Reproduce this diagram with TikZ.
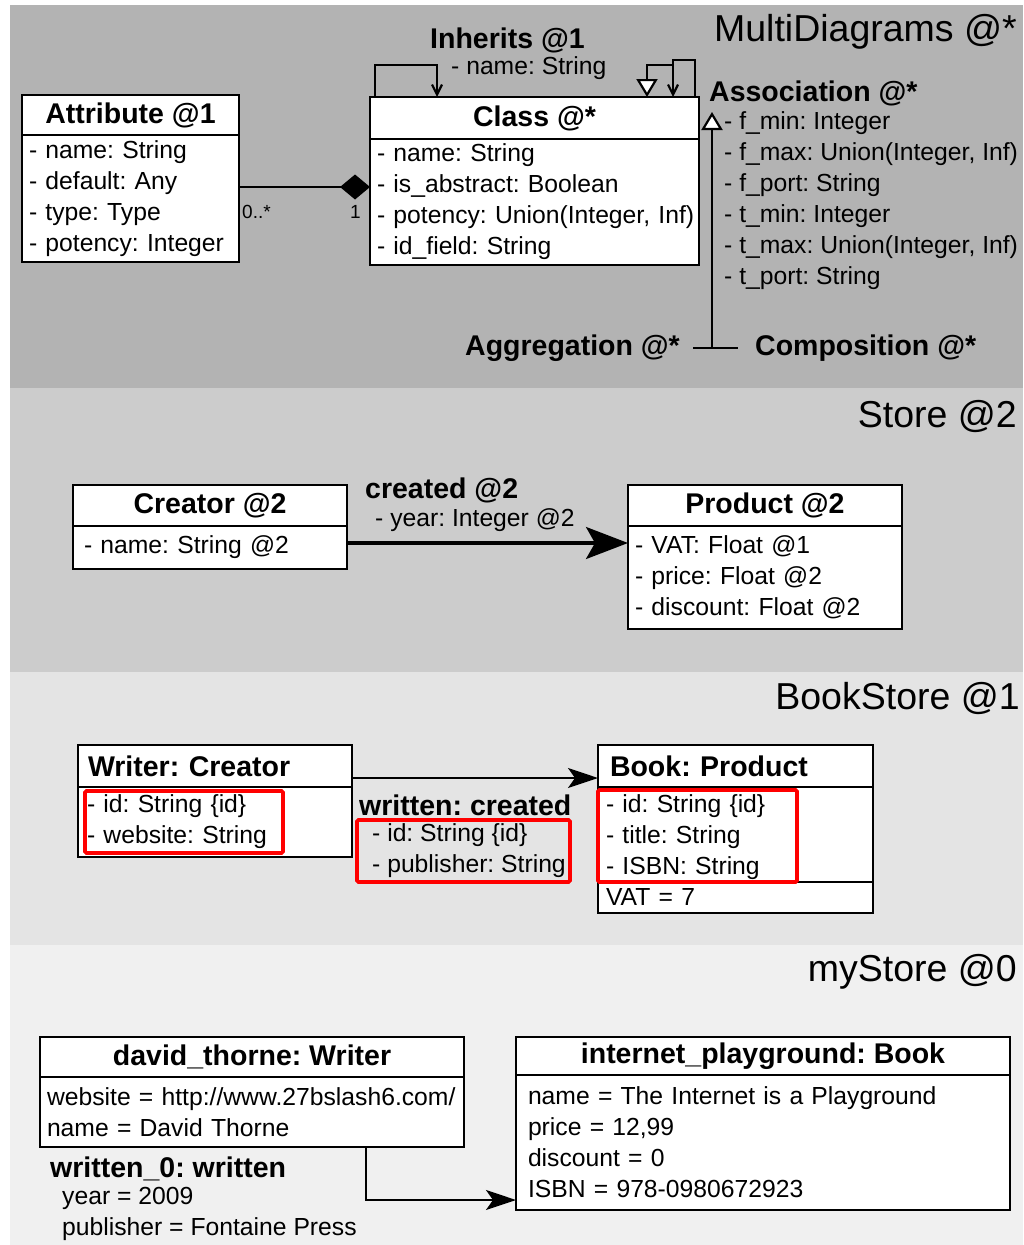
\documentclass[tikz,border=0pt]{standalone}
\usepackage{fontspec}
\setmainfont{Liberation Sans}
\usetikzlibrary{arrows.meta,positioning}

\definecolor{metagray}{HTML}{B3B3B3}
\definecolor{storegray}{HTML}{CCCCCC}
\definecolor{bookgray}{HTML}{E4E4E4}
\definecolor{instgray}{HTML}{F0F0F0}

\newcommand{\bodyfont}{\fontsize{24.7}{31}\selectfont}
\newcommand{\headfont}{\fontsize{28.5}{34}\selectfont\bfseries}
\newcommand{\bandfont}{\fontsize{37.5}{44}\selectfont}
\newcommand{\multfont}{\fontsize{19}{22}\selectfont}
\frenchspacing

\tikzset{
	boxline/.style={line width=2.2pt},
	classhead/.style={boxline, draw, fill=white, anchor=north west, inner sep=0pt, outer sep=0pt, font=\headfont},
	classbody/.style={boxline, draw, fill=white, anchor=north west, inner ysep=0pt, outer sep=0pt, align=left, font=\bodyfont},
	lbl/.style={inner sep=0pt, font=\bodyfont},
	blbl/.style={inner sep=0pt, font=\headfont},
	mult/.style={inner sep=0pt, font=\multfont},
	bandtitle/.style={inner sep=0pt, anchor=east, font=\bandfont},
	redmark/.style={draw=red, line width=3.6pt, rounded corners=1.5pt},
	tipbarb/.style={-{Straight Barb[length=10pt,width=10pt]}},
	tipinherit/.style={-{Triangle[fill=white,length=18pt,width=21pt]}},
}

\begin{document}
\begin{tikzpicture}[x=1pt,y=-1pt]
		
		\useasboundingbox (0,0) rectangle (1023,1245);
		
		\fill[metagray] (10,5) rectangle (1023,388);
		\fill[storegray] (10,388) rectangle (1023,672);
		\fill[bookgray] (10,672) rectangle (1023,945);
		\fill[instgray] (10,945) rectangle (1023,1245);
		
		\node[bandtitle] (multititle) at (1017,32) {MultiDiagrams @*};
		\node[bandtitle] (storetitle) at (1017,416) {Store @2};
		\node[bandtitle] (booktitle) at (1020,698) {BookStore @1};
		\node[bandtitle] (mytitle) at (1017,972) {myStore @0};
		
		% MultiDiagrams
		\node[classhead, minimum width=217pt, minimum height=40pt] (attrhead) at (22,95) {Attribute @1};
		\node[classbody, text width=203pt, inner xsep=7pt, minimum height=127pt] (attrbody) at (attrhead.south west) {- name: String\\- default: Any\\- type: Type\\- potency: Integer};
		
		\node[classhead, minimum width=329pt, minimum height=42pt] (classhead) at (370,97) {Class @*};
		\node[classbody, text width=315pt, inner xsep=7pt, minimum height=126pt] (classbody) at (classhead.south west) {- name: String\\- is\_abstract: Boolean\\\mbox{- potency: Union(Integer, Inf)}\\- id\_field: String};
		
		\draw[boxline, -{Diamond[length=30pt,width=25pt]}] ([yshift=11.5pt]attrbody.east) -- ([yshift=11.5pt]attrbody.east -| classbody.west);
		\node[mult, anchor=west] (multmany) at (242,212) {0..*};
		\node[mult, anchor=east] (multone) at (361,212) {1};
		
		\node[blbl, anchor=west] (inheritlbl) at (430,40) {Inherits @1};
		\node[lbl, anchor=west] (inheritattr) at (451,68) {- name: String};
		
		\draw[boxline, tipbarb] ([xshift=5pt]classhead.north west) -- ++(0,-32) -| ([xshift=67pt]classhead.north west);
		\draw[boxline, tipbarb] ([xshift=-4pt]classhead.north east) -- ++(0,-37) -| ([xshift=-26pt]classhead.north east);
		\draw[boxline, tipinherit] ([xshift=-26pt,yshift=32pt]classhead.north east) -| ([xshift=-52pt]classhead.north east);
		
		\node[blbl, anchor=west] (assoc) at (709,93) {Association @*};
		\node[lbl, anchor=west, align=left] (assocattrs) at (724,201) {- f\_min: Integer\\- f\_max: Union(Integer, Inf)\\- f\_port: String\\- t\_min: Integer\\- t\_max: Union(Integer, Inf)\\- t\_port: String};
		\node[blbl, anchor=east] (aggr) at (680,348) {Aggregation @*};
		\node[blbl, anchor=west] (comp) at (755,348) {Composition @*};
		\coordinate (assocfoot) at (712,348);
		\coordinate (assoctip) at (712,112);
		\draw[boxline] ([xshift=13pt]aggr.east) -- ([xshift=-17pt]comp.west);
		\draw[boxline, tipinherit] (assocfoot) -- (assoctip);
		
		% Store
		\node[classhead, minimum width=274pt, minimum height=41pt] (creatorhead) at (73,485) {Creator @2};
		\node[classbody, text width=252pt, inner xsep=11pt, minimum height=43pt] (creatorbody) at (creatorhead.south west) {- name: String @2};
		
		\node[classhead, minimum width=274pt, minimum height=41pt] (producthead) at (628,485) {Product @2};
		\node[classbody, text width=260pt, inner xsep=7pt, minimum height=103pt] (productbody) at (producthead.south west) {- VAT: Float @1\\- price: Float @2\\- discount: Float @2};
		
		\node[blbl, anchor=west] (createdlbl) at (365,490) {created @2};
		\node[lbl, anchor=west] (createdattr) at (375,520) {- year: Integer @2};
		\draw[line width=3.2pt, -{Stealth[length=42pt,width=32pt,inset=9pt]}] ([yshift=4.5pt]creatorbody.east) -- ([yshift=4.5pt]creatorbody.east -| productbody.west);
		
		% BookStore
		\node[classhead, text width=254pt, inner xsep=10pt, align=left, minimum height=42pt] (writerhead) at (78,745) {Writer: Creator};
		\node[classbody, text width=256pt, inner xsep=9pt, minimum height=70pt] (writerbody) at (writerhead.south west) {- id: String \{id\}\\- website: String};
		
		\node[classhead, text width=251pt, inner xsep=12pt, align=left, minimum height=42pt] (bookhead) at (598,745) {Book: Product};
		\node[classbody, text width=259pt, inner xsep=8pt, minimum height=126pt] (bookbody) at (bookhead.south west) {- id: String \{id\}\\- title: String\\- ISBN: String\\VAT = 7};
		\draw[boxline] ([yshift=31pt]bookbody.south west) -- ([yshift=31pt]bookbody.south east);
		
		\draw[line width=2pt, -{Stealth[length=30pt,width=20pt,inset=7pt]}] ([yshift=-12pt]writerhead.east) -- ([yshift=-12pt]writerhead.east -| bookhead.west);
		\node[blbl, anchor=west] (writtenlbl) at (359,805) {written: created};
		\node[lbl, anchor=west, align=left] (writtenattrs) at (372,851) {- id: String \{id\}\\- publisher: String};
		
		\draw[redmark] (85,791) rectangle (283,853);
		\draw[redmark] (357,820) rectangle (570,882);
		\draw[redmark] (598,790) rectangle (797,882);
		
		% myStore
		\node[classhead, minimum width=424pt, minimum height=40pt] (davidhead) at (40,1037) {david\_thorne: Writer};
		\node[classbody, text width=410pt, inner xsep=7pt, minimum height=70pt] (davidbody) at (davidhead.south west) {website = http://www.27bslash6.com/\\name = David Thorne};
		
		\node[classhead, minimum width=494pt, minimum height=38pt] (nethead) at (516,1037) {internet\_playground: Book};
		\node[classbody, text width=470pt, inner xsep=12pt, minimum height=135pt] (netbody) at (nethead.south west) {name = The Internet is a Playground\\price = 12,99\\discount = 0\\ISBN = 978-0980672923};
		
		\draw[line width=2pt, -{Stealth[length=30pt,width=20pt,inset=7pt]}] ([xshift=326pt]davidbody.south west) |- ([yshift=-57.5pt]netbody.west);
		\node[blbl, anchor=west] (linklbl) at (50,1169) {written\_0: written};
		\node[lbl, anchor=west, align=left] (linkattrs) at (62,1213.5) {year = 2009\\publisher = Fontaine Press};
		
	\end{tikzpicture}
\end{document}
